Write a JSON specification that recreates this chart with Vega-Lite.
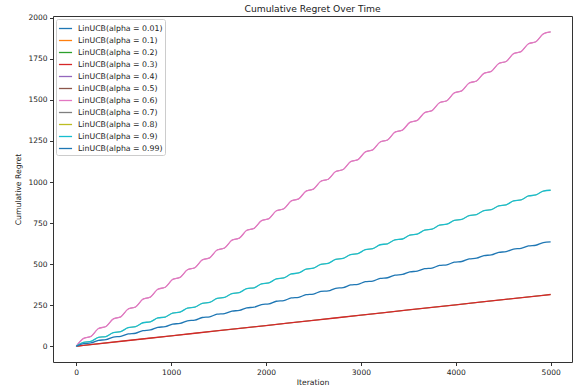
{
"$schema": "https://vega.github.io/schema/vega-lite/v6.json",
"width": 519, "height": 346,
"autosize": {"type": "none"},
"padding": {"left": 53, "top": 16, "right": 7, "bottom": 25},
"title": {"text": "Cumulative Regret Over Time", "fontSize": 9.2, "fontWeight": "normal", "color": "#222", "offset": 0, "anchor": "middle", "font": "DejaVu Sans"},
"data": {"values": [
{"a":"0.01","x":0,"y":0},{"a":"0.01","x":500,"y":32},{"a":"0.01","x":1000,"y":63},{"a":"0.01","x":1500,"y":95},{"a":"0.01","x":2000,"y":126},{"a":"0.01","x":2500,"y":158},{"a":"0.01","x":3000,"y":189},{"a":"0.01","x":3500,"y":221},{"a":"0.01","x":4000,"y":252},{"a":"0.01","x":4500,"y":284},{"a":"0.01","x":5000,"y":315},
{"a":"0.1","x":0,"y":0},{"a":"0.1","x":500,"y":32},{"a":"0.1","x":1000,"y":63},{"a":"0.1","x":1500,"y":95},{"a":"0.1","x":2000,"y":126},{"a":"0.1","x":2500,"y":158},{"a":"0.1","x":3000,"y":189},{"a":"0.1","x":3500,"y":221},{"a":"0.1","x":4000,"y":252},{"a":"0.1","x":4500,"y":284},{"a":"0.1","x":5000,"y":315},
{"a":"0.2","x":0,"y":0},{"a":"0.2","x":500,"y":32},{"a":"0.2","x":1000,"y":63},{"a":"0.2","x":1500,"y":95},{"a":"0.2","x":2000,"y":126},{"a":"0.2","x":2500,"y":158},{"a":"0.2","x":3000,"y":189},{"a":"0.2","x":3500,"y":221},{"a":"0.2","x":4000,"y":252},{"a":"0.2","x":4500,"y":284},{"a":"0.2","x":5000,"y":315},
{"a":"0.3","x":0,"y":0},{"a":"0.3","x":500,"y":32},{"a":"0.3","x":1000,"y":63},{"a":"0.3","x":1500,"y":95},{"a":"0.3","x":2000,"y":126},{"a":"0.3","x":2500,"y":158},{"a":"0.3","x":3000,"y":189},{"a":"0.3","x":3500,"y":221},{"a":"0.3","x":4000,"y":252},{"a":"0.3","x":4500,"y":284},{"a":"0.3","x":5000,"y":315},
{"a":"0.4","x":0,"y":0},{"a":"0.4","x":78,"y":48},{"a":"0.4","x":156,"y":60},{"a":"0.4","x":234,"y":108},{"a":"0.4","x":313,"y":120},{"a":"0.4","x":391,"y":167},{"a":"0.4","x":469,"y":179},{"a":"0.4","x":547,"y":227},{"a":"0.4","x":625,"y":239},{"a":"0.4","x":703,"y":287},{"a":"0.4","x":781,"y":299},{"a":"0.4","x":859,"y":347},{"a":"0.4","x":938,"y":359},{"a":"0.4","x":1016,"y":407},{"a":"0.4","x":1094,"y":419},{"a":"0.4","x":1172,"y":466},{"a":"0.4","x":1250,"y":478},{"a":"0.4","x":1328,"y":526},{"a":"0.4","x":1406,"y":538},{"a":"0.4","x":1484,"y":586},{"a":"0.4","x":1563,"y":598},{"a":"0.4","x":1641,"y":646},{"a":"0.4","x":1719,"y":658},{"a":"0.4","x":1797,"y":706},{"a":"0.4","x":1875,"y":718},{"a":"0.4","x":1953,"y":765},{"a":"0.4","x":2031,"y":777},{"a":"0.4","x":2109,"y":825},{"a":"0.4","x":2188,"y":837},{"a":"0.4","x":2266,"y":885},{"a":"0.4","x":2344,"y":897},{"a":"0.4","x":2422,"y":945},{"a":"0.4","x":2500,"y":957},{"a":"0.4","x":2578,"y":1005},{"a":"0.4","x":2656,"y":1017},{"a":"0.4","x":2734,"y":1064},{"a":"0.4","x":2813,"y":1076},{"a":"0.4","x":2891,"y":1124},{"a":"0.4","x":2969,"y":1136},{"a":"0.4","x":3047,"y":1184},{"a":"0.4","x":3125,"y":1196},{"a":"0.4","x":3203,"y":1244},{"a":"0.4","x":3281,"y":1256},{"a":"0.4","x":3359,"y":1304},{"a":"0.4","x":3438,"y":1316},{"a":"0.4","x":3516,"y":1363},{"a":"0.4","x":3594,"y":1375},{"a":"0.4","x":3672,"y":1423},{"a":"0.4","x":3750,"y":1435},{"a":"0.4","x":3828,"y":1483},{"a":"0.4","x":3906,"y":1495},{"a":"0.4","x":3984,"y":1543},{"a":"0.4","x":4063,"y":1555},{"a":"0.4","x":4141,"y":1603},{"a":"0.4","x":4219,"y":1615},{"a":"0.4","x":4297,"y":1662},{"a":"0.4","x":4375,"y":1674},{"a":"0.4","x":4453,"y":1722},{"a":"0.4","x":4531,"y":1734},{"a":"0.4","x":4609,"y":1782},{"a":"0.4","x":4688,"y":1794},{"a":"0.4","x":4766,"y":1842},{"a":"0.4","x":4844,"y":1854},{"a":"0.4","x":4922,"y":1902},{"a":"0.4","x":5000,"y":1914},
{"a":"0.5","x":0,"y":0},{"a":"0.5","x":78,"y":48},{"a":"0.5","x":156,"y":60},{"a":"0.5","x":234,"y":108},{"a":"0.5","x":313,"y":120},{"a":"0.5","x":391,"y":167},{"a":"0.5","x":469,"y":179},{"a":"0.5","x":547,"y":227},{"a":"0.5","x":625,"y":239},{"a":"0.5","x":703,"y":287},{"a":"0.5","x":781,"y":299},{"a":"0.5","x":859,"y":347},{"a":"0.5","x":938,"y":359},{"a":"0.5","x":1016,"y":407},{"a":"0.5","x":1094,"y":419},{"a":"0.5","x":1172,"y":466},{"a":"0.5","x":1250,"y":478},{"a":"0.5","x":1328,"y":526},{"a":"0.5","x":1406,"y":538},{"a":"0.5","x":1484,"y":586},{"a":"0.5","x":1563,"y":598},{"a":"0.5","x":1641,"y":646},{"a":"0.5","x":1719,"y":658},{"a":"0.5","x":1797,"y":706},{"a":"0.5","x":1875,"y":718},{"a":"0.5","x":1953,"y":765},{"a":"0.5","x":2031,"y":777},{"a":"0.5","x":2109,"y":825},{"a":"0.5","x":2188,"y":837},{"a":"0.5","x":2266,"y":885},{"a":"0.5","x":2344,"y":897},{"a":"0.5","x":2422,"y":945},{"a":"0.5","x":2500,"y":957},{"a":"0.5","x":2578,"y":1005},{"a":"0.5","x":2656,"y":1017},{"a":"0.5","x":2734,"y":1064},{"a":"0.5","x":2813,"y":1076},{"a":"0.5","x":2891,"y":1124},{"a":"0.5","x":2969,"y":1136},{"a":"0.5","x":3047,"y":1184},{"a":"0.5","x":3125,"y":1196},{"a":"0.5","x":3203,"y":1244},{"a":"0.5","x":3281,"y":1256},{"a":"0.5","x":3359,"y":1304},{"a":"0.5","x":3438,"y":1316},{"a":"0.5","x":3516,"y":1363},{"a":"0.5","x":3594,"y":1375},{"a":"0.5","x":3672,"y":1423},{"a":"0.5","x":3750,"y":1435},{"a":"0.5","x":3828,"y":1483},{"a":"0.5","x":3906,"y":1495},{"a":"0.5","x":3984,"y":1543},{"a":"0.5","x":4063,"y":1555},{"a":"0.5","x":4141,"y":1603},{"a":"0.5","x":4219,"y":1615},{"a":"0.5","x":4297,"y":1662},{"a":"0.5","x":4375,"y":1674},{"a":"0.5","x":4453,"y":1722},{"a":"0.5","x":4531,"y":1734},{"a":"0.5","x":4609,"y":1782},{"a":"0.5","x":4688,"y":1794},{"a":"0.5","x":4766,"y":1842},{"a":"0.5","x":4844,"y":1854},{"a":"0.5","x":4922,"y":1902},{"a":"0.5","x":5000,"y":1914},
{"a":"0.6","x":0,"y":0},{"a":"0.6","x":78,"y":48},{"a":"0.6","x":156,"y":60},{"a":"0.6","x":234,"y":108},{"a":"0.6","x":313,"y":120},{"a":"0.6","x":391,"y":167},{"a":"0.6","x":469,"y":179},{"a":"0.6","x":547,"y":227},{"a":"0.6","x":625,"y":239},{"a":"0.6","x":703,"y":287},{"a":"0.6","x":781,"y":299},{"a":"0.6","x":859,"y":347},{"a":"0.6","x":938,"y":359},{"a":"0.6","x":1016,"y":407},{"a":"0.6","x":1094,"y":419},{"a":"0.6","x":1172,"y":466},{"a":"0.6","x":1250,"y":478},{"a":"0.6","x":1328,"y":526},{"a":"0.6","x":1406,"y":538},{"a":"0.6","x":1484,"y":586},{"a":"0.6","x":1563,"y":598},{"a":"0.6","x":1641,"y":646},{"a":"0.6","x":1719,"y":658},{"a":"0.6","x":1797,"y":706},{"a":"0.6","x":1875,"y":718},{"a":"0.6","x":1953,"y":765},{"a":"0.6","x":2031,"y":777},{"a":"0.6","x":2109,"y":825},{"a":"0.6","x":2188,"y":837},{"a":"0.6","x":2266,"y":885},{"a":"0.6","x":2344,"y":897},{"a":"0.6","x":2422,"y":945},{"a":"0.6","x":2500,"y":957},{"a":"0.6","x":2578,"y":1005},{"a":"0.6","x":2656,"y":1017},{"a":"0.6","x":2734,"y":1064},{"a":"0.6","x":2813,"y":1076},{"a":"0.6","x":2891,"y":1124},{"a":"0.6","x":2969,"y":1136},{"a":"0.6","x":3047,"y":1184},{"a":"0.6","x":3125,"y":1196},{"a":"0.6","x":3203,"y":1244},{"a":"0.6","x":3281,"y":1256},{"a":"0.6","x":3359,"y":1304},{"a":"0.6","x":3438,"y":1316},{"a":"0.6","x":3516,"y":1363},{"a":"0.6","x":3594,"y":1375},{"a":"0.6","x":3672,"y":1423},{"a":"0.6","x":3750,"y":1435},{"a":"0.6","x":3828,"y":1483},{"a":"0.6","x":3906,"y":1495},{"a":"0.6","x":3984,"y":1543},{"a":"0.6","x":4063,"y":1555},{"a":"0.6","x":4141,"y":1603},{"a":"0.6","x":4219,"y":1615},{"a":"0.6","x":4297,"y":1662},{"a":"0.6","x":4375,"y":1674},{"a":"0.6","x":4453,"y":1722},{"a":"0.6","x":4531,"y":1734},{"a":"0.6","x":4609,"y":1782},{"a":"0.6","x":4688,"y":1794},{"a":"0.6","x":4766,"y":1842},{"a":"0.6","x":4844,"y":1854},{"a":"0.6","x":4922,"y":1902},{"a":"0.6","x":5000,"y":1914},
{"a":"0.7","x":0,"y":0},{"a":"0.7","x":78,"y":24},{"a":"0.7","x":156,"y":30},{"a":"0.7","x":234,"y":54},{"a":"0.7","x":313,"y":59},{"a":"0.7","x":391,"y":83},{"a":"0.7","x":469,"y":89},{"a":"0.7","x":547,"y":113},{"a":"0.7","x":625,"y":119},{"a":"0.7","x":703,"y":143},{"a":"0.7","x":781,"y":149},{"a":"0.7","x":859,"y":172},{"a":"0.7","x":938,"y":178},{"a":"0.7","x":1016,"y":202},{"a":"0.7","x":1094,"y":208},{"a":"0.7","x":1172,"y":232},{"a":"0.7","x":1250,"y":238},{"a":"0.7","x":1328,"y":261},{"a":"0.7","x":1406,"y":267},{"a":"0.7","x":1484,"y":291},{"a":"0.7","x":1563,"y":297},{"a":"0.7","x":1641,"y":321},{"a":"0.7","x":1719,"y":327},{"a":"0.7","x":1797,"y":351},{"a":"0.7","x":1875,"y":356},{"a":"0.7","x":1953,"y":380},{"a":"0.7","x":2031,"y":386},{"a":"0.7","x":2109,"y":410},{"a":"0.7","x":2188,"y":416},{"a":"0.7","x":2266,"y":440},{"a":"0.7","x":2344,"y":446},{"a":"0.7","x":2422,"y":469},{"a":"0.7","x":2500,"y":475},{"a":"0.7","x":2578,"y":499},{"a":"0.7","x":2656,"y":505},{"a":"0.7","x":2734,"y":529},{"a":"0.7","x":2813,"y":535},{"a":"0.7","x":2891,"y":558},{"a":"0.7","x":2969,"y":564},{"a":"0.7","x":3047,"y":588},{"a":"0.7","x":3125,"y":594},{"a":"0.7","x":3203,"y":618},{"a":"0.7","x":3281,"y":624},{"a":"0.7","x":3359,"y":648},{"a":"0.7","x":3438,"y":653},{"a":"0.7","x":3516,"y":677},{"a":"0.7","x":3594,"y":683},{"a":"0.7","x":3672,"y":707},{"a":"0.7","x":3750,"y":713},{"a":"0.7","x":3828,"y":737},{"a":"0.7","x":3906,"y":743},{"a":"0.7","x":3984,"y":766},{"a":"0.7","x":4063,"y":772},{"a":"0.7","x":4141,"y":796},{"a":"0.7","x":4219,"y":802},{"a":"0.7","x":4297,"y":826},{"a":"0.7","x":4375,"y":832},{"a":"0.7","x":4453,"y":855},{"a":"0.7","x":4531,"y":861},{"a":"0.7","x":4609,"y":885},{"a":"0.7","x":4688,"y":891},{"a":"0.7","x":4766,"y":915},{"a":"0.7","x":4844,"y":921},{"a":"0.7","x":4922,"y":945},{"a":"0.7","x":5000,"y":950},
{"a":"0.8","x":0,"y":0},{"a":"0.8","x":78,"y":24},{"a":"0.8","x":156,"y":30},{"a":"0.8","x":234,"y":54},{"a":"0.8","x":313,"y":59},{"a":"0.8","x":391,"y":83},{"a":"0.8","x":469,"y":89},{"a":"0.8","x":547,"y":113},{"a":"0.8","x":625,"y":119},{"a":"0.8","x":703,"y":143},{"a":"0.8","x":781,"y":149},{"a":"0.8","x":859,"y":172},{"a":"0.8","x":938,"y":178},{"a":"0.8","x":1016,"y":202},{"a":"0.8","x":1094,"y":208},{"a":"0.8","x":1172,"y":232},{"a":"0.8","x":1250,"y":238},{"a":"0.8","x":1328,"y":261},{"a":"0.8","x":1406,"y":267},{"a":"0.8","x":1484,"y":291},{"a":"0.8","x":1563,"y":297},{"a":"0.8","x":1641,"y":321},{"a":"0.8","x":1719,"y":327},{"a":"0.8","x":1797,"y":351},{"a":"0.8","x":1875,"y":356},{"a":"0.8","x":1953,"y":380},{"a":"0.8","x":2031,"y":386},{"a":"0.8","x":2109,"y":410},{"a":"0.8","x":2188,"y":416},{"a":"0.8","x":2266,"y":440},{"a":"0.8","x":2344,"y":446},{"a":"0.8","x":2422,"y":469},{"a":"0.8","x":2500,"y":475},{"a":"0.8","x":2578,"y":499},{"a":"0.8","x":2656,"y":505},{"a":"0.8","x":2734,"y":529},{"a":"0.8","x":2813,"y":535},{"a":"0.8","x":2891,"y":558},{"a":"0.8","x":2969,"y":564},{"a":"0.8","x":3047,"y":588},{"a":"0.8","x":3125,"y":594},{"a":"0.8","x":3203,"y":618},{"a":"0.8","x":3281,"y":624},{"a":"0.8","x":3359,"y":648},{"a":"0.8","x":3438,"y":653},{"a":"0.8","x":3516,"y":677},{"a":"0.8","x":3594,"y":683},{"a":"0.8","x":3672,"y":707},{"a":"0.8","x":3750,"y":713},{"a":"0.8","x":3828,"y":737},{"a":"0.8","x":3906,"y":743},{"a":"0.8","x":3984,"y":766},{"a":"0.8","x":4063,"y":772},{"a":"0.8","x":4141,"y":796},{"a":"0.8","x":4219,"y":802},{"a":"0.8","x":4297,"y":826},{"a":"0.8","x":4375,"y":832},{"a":"0.8","x":4453,"y":855},{"a":"0.8","x":4531,"y":861},{"a":"0.8","x":4609,"y":885},{"a":"0.8","x":4688,"y":891},{"a":"0.8","x":4766,"y":915},{"a":"0.8","x":4844,"y":921},{"a":"0.8","x":4922,"y":945},{"a":"0.8","x":5000,"y":950},
{"a":"0.9","x":0,"y":0},{"a":"0.9","x":78,"y":24},{"a":"0.9","x":156,"y":30},{"a":"0.9","x":234,"y":54},{"a":"0.9","x":313,"y":59},{"a":"0.9","x":391,"y":83},{"a":"0.9","x":469,"y":89},{"a":"0.9","x":547,"y":113},{"a":"0.9","x":625,"y":119},{"a":"0.9","x":703,"y":143},{"a":"0.9","x":781,"y":149},{"a":"0.9","x":859,"y":172},{"a":"0.9","x":938,"y":178},{"a":"0.9","x":1016,"y":202},{"a":"0.9","x":1094,"y":208},{"a":"0.9","x":1172,"y":232},{"a":"0.9","x":1250,"y":238},{"a":"0.9","x":1328,"y":261},{"a":"0.9","x":1406,"y":267},{"a":"0.9","x":1484,"y":291},{"a":"0.9","x":1563,"y":297},{"a":"0.9","x":1641,"y":321},{"a":"0.9","x":1719,"y":327},{"a":"0.9","x":1797,"y":351},{"a":"0.9","x":1875,"y":356},{"a":"0.9","x":1953,"y":380},{"a":"0.9","x":2031,"y":386},{"a":"0.9","x":2109,"y":410},{"a":"0.9","x":2188,"y":416},{"a":"0.9","x":2266,"y":440},{"a":"0.9","x":2344,"y":446},{"a":"0.9","x":2422,"y":469},{"a":"0.9","x":2500,"y":475},{"a":"0.9","x":2578,"y":499},{"a":"0.9","x":2656,"y":505},{"a":"0.9","x":2734,"y":529},{"a":"0.9","x":2813,"y":535},{"a":"0.9","x":2891,"y":558},{"a":"0.9","x":2969,"y":564},{"a":"0.9","x":3047,"y":588},{"a":"0.9","x":3125,"y":594},{"a":"0.9","x":3203,"y":618},{"a":"0.9","x":3281,"y":624},{"a":"0.9","x":3359,"y":648},{"a":"0.9","x":3438,"y":653},{"a":"0.9","x":3516,"y":677},{"a":"0.9","x":3594,"y":683},{"a":"0.9","x":3672,"y":707},{"a":"0.9","x":3750,"y":713},{"a":"0.9","x":3828,"y":737},{"a":"0.9","x":3906,"y":743},{"a":"0.9","x":3984,"y":766},{"a":"0.9","x":4063,"y":772},{"a":"0.9","x":4141,"y":796},{"a":"0.9","x":4219,"y":802},{"a":"0.9","x":4297,"y":826},{"a":"0.9","x":4375,"y":832},{"a":"0.9","x":4453,"y":855},{"a":"0.9","x":4531,"y":861},{"a":"0.9","x":4609,"y":885},{"a":"0.9","x":4688,"y":891},{"a":"0.9","x":4766,"y":915},{"a":"0.9","x":4844,"y":921},{"a":"0.9","x":4922,"y":945},{"a":"0.9","x":5000,"y":950},
{"a":"0.99","x":0,"y":0},{"a":"0.99","x":78,"y":16},{"a":"0.99","x":156,"y":20},{"a":"0.99","x":234,"y":36},{"a":"0.99","x":313,"y":40},{"a":"0.99","x":391,"y":56},{"a":"0.99","x":469,"y":60},{"a":"0.99","x":547,"y":75},{"a":"0.99","x":625,"y":79},{"a":"0.99","x":703,"y":95},{"a":"0.99","x":781,"y":99},{"a":"0.99","x":859,"y":115},{"a":"0.99","x":938,"y":119},{"a":"0.99","x":1016,"y":135},{"a":"0.99","x":1094,"y":139},{"a":"0.99","x":1172,"y":155},{"a":"0.99","x":1250,"y":159},{"a":"0.99","x":1328,"y":175},{"a":"0.99","x":1406,"y":179},{"a":"0.99","x":1484,"y":195},{"a":"0.99","x":1563,"y":199},{"a":"0.99","x":1641,"y":214},{"a":"0.99","x":1719,"y":218},{"a":"0.99","x":1797,"y":234},{"a":"0.99","x":1875,"y":238},{"a":"0.99","x":1953,"y":254},{"a":"0.99","x":2031,"y":258},{"a":"0.99","x":2109,"y":274},{"a":"0.99","x":2188,"y":278},{"a":"0.99","x":2266,"y":294},{"a":"0.99","x":2344,"y":298},{"a":"0.99","x":2422,"y":314},{"a":"0.99","x":2500,"y":318},{"a":"0.99","x":2578,"y":334},{"a":"0.99","x":2656,"y":337},{"a":"0.99","x":2734,"y":353},{"a":"0.99","x":2813,"y":357},{"a":"0.99","x":2891,"y":373},{"a":"0.99","x":2969,"y":377},{"a":"0.99","x":3047,"y":393},{"a":"0.99","x":3125,"y":397},{"a":"0.99","x":3203,"y":413},{"a":"0.99","x":3281,"y":417},{"a":"0.99","x":3359,"y":433},{"a":"0.99","x":3438,"y":437},{"a":"0.99","x":3516,"y":453},{"a":"0.99","x":3594,"y":457},{"a":"0.99","x":3672,"y":472},{"a":"0.99","x":3750,"y":476},{"a":"0.99","x":3828,"y":492},{"a":"0.99","x":3906,"y":496},{"a":"0.99","x":3984,"y":512},{"a":"0.99","x":4063,"y":516},{"a":"0.99","x":4141,"y":532},{"a":"0.99","x":4219,"y":536},{"a":"0.99","x":4297,"y":552},{"a":"0.99","x":4375,"y":556},{"a":"0.99","x":4453,"y":572},{"a":"0.99","x":4531,"y":576},{"a":"0.99","x":4609,"y":592},{"a":"0.99","x":4688,"y":596},{"a":"0.99","x":4766,"y":611},{"a":"0.99","x":4844,"y":615},{"a":"0.99","x":4922,"y":631},{"a":"0.99","x":5000,"y":635}
]},
"mark": {"type": "line", "interpolate": "monotone"},
"encoding": {
"x": {"field": "x", "type": "quantitative", "scale": {"domain": [-245, 5225], "nice": false, "zero": false}, "axis": {"values": [0,1000,2000,3000,4000,5000], "format": "d", "title": "Iteration", "titlePadding": 3}},
"y": {"field": "y", "type": "quantitative", "scale": {"domain": [-96, 2011], "nice": false, "zero": false}, "axis": {"values": [0,250,500,750,1000,1250,1500,1750,2000], "format": "d", "title": "Cumulative Regret", "titlePadding": 5}},
"strokeWidth": {"condition": {"test": "indexof(['0.3','0.6','0.9','0.99'], datum.a) >= 0", "value": 1.3}, "value": 0.4},
"color": {"field": "a", "type": "nominal", "sort": null,
"scale": {"domain": ["0.01","0.1","0.2","0.3","0.4","0.5","0.6","0.7","0.8","0.9","0.99"], "range": ["#1f77b4","#ff7f0e","#2ca02c","#d62728","#9467bd","#8c564b","#e377c2","#7f7f7f","#bcbd22","#17becf","#1f77b4"]},
"legend": {"title": null, "orient": "none", "legendX": 3, "legendY": 3, "labelExpr": "'LinUCB(alpha = ' + datum.label + ')'", "symbolType": "stroke", "symbolSize": 172, "symbolStrokeWidth": 1.3, "labelFontSize": 7.8, "labelOffset": 5, "rowPadding": -1.2, "padding": 2, "strokeColor": "#ccc", "fillColor": "white", "cornerRadius": 2, "labelColor": "#222"}}
},
"config": {
"font": "DejaVu Sans",
"view": {"stroke": "#333", "strokeWidth": 1},
"axis": {"grid": false, "domain": false, "tickColor": "#333", "tickSize": 3.5, "labelFontSize": 7.5, "labelColor": "#222", "labelPadding": 2.5, "titleFontSize": 7.7, "titleFontWeight": "normal", "titleColor": "#222", "labelFont": "DejaVu Sans", "titleFont": "DejaVu Sans"},
"legend": {"labelFont": "DejaVu Sans"}
}
}
